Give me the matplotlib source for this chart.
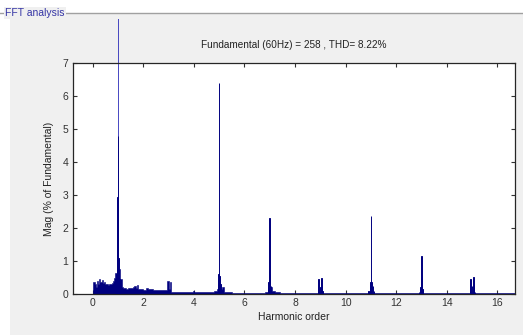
import matplotlib
matplotlib.use("Agg")
import matplotlib.pyplot as plt
from matplotlib.patches import Rectangle
from matplotlib.lines import Line2D
from matplotlib.transforms import Bbox, TransformedBbox

plt.rcParams['font.family'] = ['Liberation Sans', 'DejaVu Sans']

# ---- data ----
title_text = "Fundamental (60Hz) = 258 , THD= 8.22%"
panel_title = "FFT analysis"
x_label = "Harmonic order"
y_label = "Mag (% of Fundamental)"
x_ticks = [0, 2, 4, 6, 8, 10, 12, 14, 16]
y_ticks = [0, 1, 2, 3, 4, 5, 6, 7]

fundamental_order = 1.0
fundamental_mag = 100.0

floor_orders = [0.00, 0.03, 0.08, 0.12, 0.16, 0.20, 0.25, 0.30, 0.35, 0.40,
                0.45, 0.50, 0.55, 0.60, 0.65, 0.70, 0.75, 0.80, 0.85, 0.90,
                1.05, 1.10, 1.15, 1.20, 1.30, 1.40, 1.50, 1.60, 1.65, 1.70,
                1.75, 1.80, 1.90, 2.00, 2.10, 2.20, 2.40, 2.60, 2.80, 2.90,
                2.95, 3.00, 3.05, 3.10, 3.50, 3.98, 4.02, 4.50, 4.80, 4.90,
                5.10, 5.20, 5.50, 6.00, 6.50, 6.80, 6.92, 7.08, 7.20, 7.40,
                7.60, 16.70]
floor_mags = [0.00, 0.36, 0.30, 0.22, 0.40, 0.30, 0.44, 0.35, 0.42, 0.33,
              0.36, 0.30, 0.30, 0.28, 0.29, 0.30, 0.33, 0.38, 0.48, 0.65,
              0.75, 0.45, 0.22, 0.18, 0.16, 0.17, 0.18, 0.20, 0.23, 0.17,
              0.26, 0.15, 0.14, 0.13, 0.18, 0.14, 0.12, 0.12, 0.11, 0.12,
              0.40, 0.15, 0.36, 0.06, 0.05, 0.10, 0.05, 0.05, 0.08, 0.15,
              0.20, 0.05, 0.03, 0.03, 0.03, 0.06, 0.20, 0.10, 0.06, 0.04,
              0.025, 0.025]

peak_orders = [0.94, 0.96, 0.98, 0.99, 1.01, 1.02, 1.04, 1.06,
               4.96, 4.98, 5.00, 5.02, 5.05,
               6.96, 6.98, 7.00, 7.02, 7.05,
               8.93, 9.00, 9.05, 9.08,
               10.90, 10.96, 10.99, 11.00, 11.02, 11.08, 11.12,
               12.90, 12.96, 12.98, 13.00, 13.02, 13.05,
               14.92, 14.95, 15.00, 15.05, 15.08, 15.12]
peak_mags = [0.55, 0.90, 1.18, 2.95, 4.80, 1.10, 0.70, 0.45,
             0.30, 0.60, 6.40, 0.55, 0.30,
             0.35, 0.70, 2.30, 0.60, 0.25,
             0.45, 0.20, 0.50, 0.10,
             0.10, 0.20, 0.37, 2.37, 0.35, 0.25, 0.10,
             0.05, 0.20, 0.50, 1.15, 0.56, 0.15,
             0.10, 0.45, 0.25, 0.53, 0.28, 0.05]

# ---- figure ----
W, H = 523, 335
fig = plt.figure(figsize=(W / 100, H / 100), dpi=100)
fig.patch.set_facecolor('white')

def fx(px):
    return px / W

def fy(py):
    return 1 - py / H

# gray panel
fig.add_artist(Rectangle((fx(10), 0), fx(W - 10), fy(13), transform=fig.transFigure,
                         facecolor='#f0f0f0', edgecolor='none', zorder=0))
fig.add_artist(Line2D([0, 1], [fy(13), fy(13)], transform=fig.transFigure,
                      color='#a0a0a0', lw=1.0, zorder=1))
fig.text(fx(5), fy(13), panel_title, fontsize=7.5, color='#3535a5',
         va='center', ha='left', zorder=2,
         bbox=dict(facecolor='#f0f0f0', edgecolor='none', pad=1.0))

ax = fig.add_axes([fx(72.7), fy(294), fx(515 - 72.7), fy(63.3) - fy(294)])
ax.set_facecolor('white')
ax.set_xlim(-0.79, 16.7)
ax.set_ylim(0, 7)

bar_color = '#00007f'
ax.fill_between(floor_orders, floor_mags, step='post', color=bar_color, lw=0.4,
                edgecolor=bar_color, zorder=2)
fb = ax.bar([fundamental_order], [fundamental_mag], width=0.02, color='#2a2ab8',
            edgecolor='#2a2ab8', linewidth=0.6, zorder=2.5)
clip = TransformedBbox(Bbox.from_extents(0, 0, 1, fy(19)), fig.transFigure)
for p in fb.patches:
    p.set_clip_path(None)
    p.set_clip_box(clip)
ax.bar(peak_orders, peak_mags, width=0.022, color=bar_color, edgecolor=bar_color,
       linewidth=0.7, zorder=3)

ax.set_xticks(x_ticks)
ax.set_yticks(y_ticks)
ax.tick_params(direction='in', top=True, right=True, length=3, width=0.8,
               labelsize=7.5, labelcolor='#333333', color='#333333', pad=3)
for s in ax.spines.values():
    s.set_color('#262626')
    s.set_linewidth(0.9)

ax.set_title(title_text, fontsize=7.2, color='#222222', pad=11)
ax.set_xlabel(x_label, fontsize=7.5, color='#222222', labelpad=3)
ax.set_ylabel(y_label, fontsize=7.5, color='#222222', labelpad=6)

fig.savefig('out.png', dpi=100)
